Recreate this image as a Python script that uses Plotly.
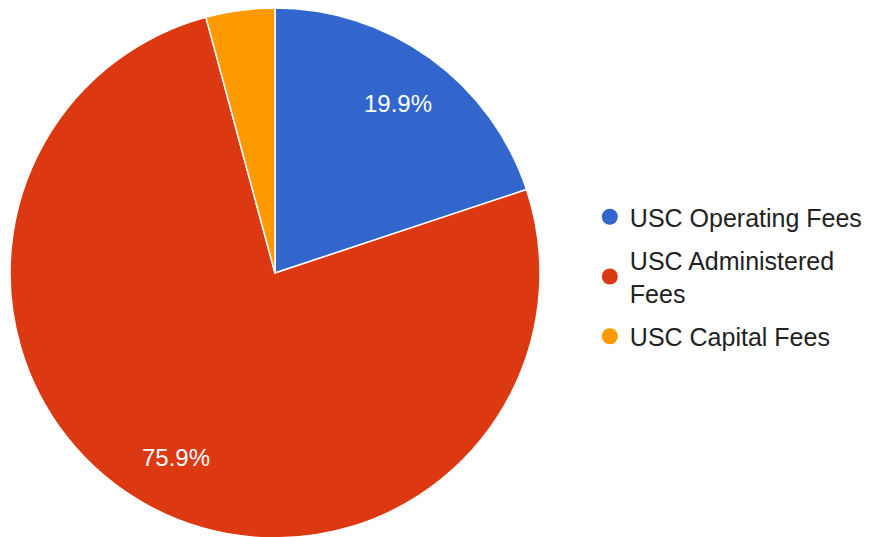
import math
import plotly.graph_objects as go

# Data
labels = ["USC Operating Fees", "USC Administered Fees", "USC Capital Fees"]
legend_names = ["USC Operating Fees", "USC Administered<br>Fees", "USC Capital Fees"]
shares = [19.9, 75.9, 4.2]
slice_text = ["19.9%", "75.9%", ""]
colors = ["#3366CC", "#DC3912", "#FF9900"]

W, H = 871, 537
# pie box in figure pixels (left, right, top, bottom)
px0, px1, py0, py1 = 2, 532, 0, 530
cx, cy = (px0 + px1) / 2, (py0 + py1) / 2
R = (px1 - px0) / 2

fig = go.Figure()

fig.add_trace(
    go.Pie(
        labels=labels,
        values=shares,
        textinfo="none",
        marker=dict(colors=colors, line=dict(color="white", width=1.5)),
        sort=False,
        direction="clockwise",
        rotation=0,
        showlegend=False,
        hoverinfo="label+percent",
        domain=dict(x=[px0 / W, px1 / W], y=[1 - py1 / H, 1 - py0 / H]),
    )
)

# Percentage labels placed along each slice's bisector
total = sum(shares)
start = 0.0
for share, txt in zip(shares, slice_text):
    mid = (start + share / 2) / total * 2 * math.pi
    start += share
    if not txt:
        continue
    r = 0.79 * R
    fig.add_annotation(
        x=(cx + r * math.sin(mid)) / W,
        y=1 - (cy - r * math.cos(mid)) / H,
        xref="paper", yref="paper",
        xanchor="center", yanchor="middle",
        text=txt, showarrow=False,
        font=dict(family="Arial, Liberation Sans", size=24, color="white"),
    )

# Legend entries with round markers
for i, (name, color) in enumerate(zip(legend_names, colors)):
    fig.add_trace(
        go.Scatter(
            x=[None], y=[None],
            mode="markers",
            name=name,
            legendgroup=f"g{i}",
            marker=dict(color=color, size=20, symbol="circle"),
            showlegend=True,
        )
    )

fig.update_layout(
    width=W,
    height=H,
    margin=dict(l=0, r=0, t=0, b=0),
    paper_bgcolor="white",
    plot_bgcolor="white",
    xaxis=dict(visible=False),
    yaxis=dict(visible=False),
    legend=dict(
        x=0.668, y=0.5, xanchor="left", yanchor="middle",
        font=dict(family="Arial, Liberation Sans", size=25, color="#222222"),
        tracegroupgap=8,
    ),
)

fig.write_html("out.html")
